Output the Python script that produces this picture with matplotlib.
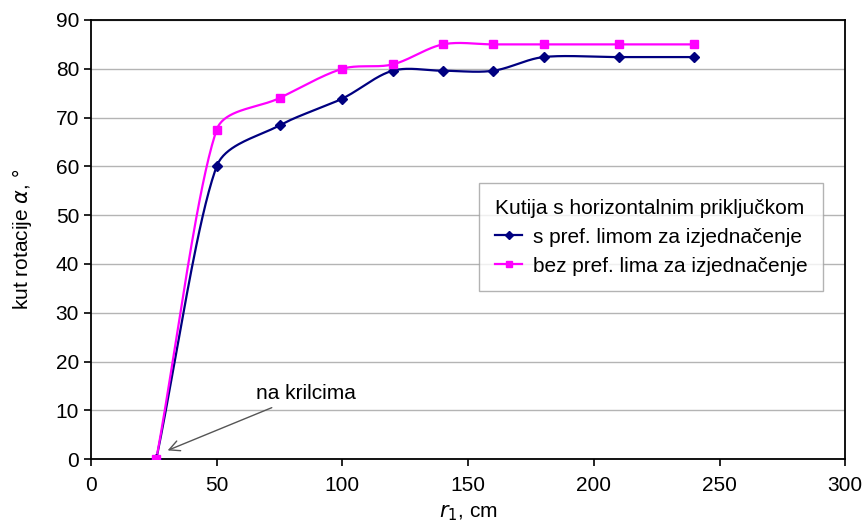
import numpy as np
import matplotlib
matplotlib.use('Agg')
import matplotlib.pyplot as plt

plt.rcParams['font.family'] = ['Liberation Sans', 'DejaVu Sans']

# data
r1 = [26, 50, 75, 100, 120, 140, 160, 180, 210, 240]
with_plate = [0, 60, 68.4, 73.9, 79.6, 79.6, 79.6, 82.4, 82.4, 82.4]
without_plate = [0, 67.5, 74.0, 80, 80.9, 85, 85, 85, 85, 85]

title_leg = 'Kutija s horizontalnim priključkom'
label_a = 's pref. limom za izjednačenje'
label_b = 'bez pref. lima za izjednačenje'

FS = 15


def smooth(x, y, sx=2.51, sy=4.88, n=40):
    # Excel-like smoothed line, worked out in screen units
    p = np.column_stack([np.array(x) * sx, np.array(y) * sy]).astype(float)
    out = [p[0]]
    t = np.linspace(0, 1, n)[1:, None]
    L = np.hypot(*np.diff(p, axis=0).T)
    for i in range(len(p) - 1):
        if i > 0:
            d = p[i + 1] - p[i - 1]
            c1 = p[i] + d * min(1 / 6, L[i] / (L[i - 1] + L[i]) / 3)
        else:
            c1 = p[i] + (p[i + 1] - p[i]) / 3
        if i + 2 < len(p):
            d = p[i + 2] - p[i]
            c2 = p[i + 1] - d * min(1 / 6, L[i] / (L[i] + L[i + 1]) / 3)
        else:
            c2 = p[i + 1] - (p[i + 1] - p[i]) / 3
        seg = ((1 - t) ** 3 * p[i] + 3 * (1 - t) ** 2 * t * c1
               + 3 * (1 - t) * t ** 2 * c2 + t ** 3 * p[i + 1])
        out.extend(seg)
    out = np.array(out)
    return out[:, 0] / sx, out[:, 1] / sy


fig = plt.figure(figsize=(8.66, 5.26), dpi=100)
ax = fig.add_axes([0.105, 0.127, 0.871, 0.835])

navy = '#000080'
pink = '#ff00ff'

cx, cy = smooth(r1, with_plate)
ax.plot(cx, cy, color=navy, lw=1.6, zorder=3)
ax.plot(r1, with_plate, ls='none', marker='D', ms=5.5, color=navy, zorder=4)
cx, cy = smooth(r1, without_plate)
ax.plot(cx, cy, color=pink, lw=1.6, zorder=3)
ax.plot(r1, without_plate, ls='none', marker='s', ms=6, color=pink, zorder=5)

# legend proxies
ha, = ax.plot([], [], color=navy, lw=1.6, marker='D', ms=4)
hb, = ax.plot([], [], color=pink, lw=1.6, marker='s', ms=4.5)
leg = ax.legend([ha, hb], [label_a, label_b], title=title_leg,
                loc='upper left', bbox_to_anchor=(0.515, 0.629),
                fontsize=FS, title_fontsize=FS, frameon=True,
                fancybox=False, edgecolor='#a0a0a0', handlelength=1.3,
                handletextpad=0.5, borderpad=0.75, labelspacing=0.48,
                borderaxespad=0)
leg._legend_box.align = 'left'
leg.get_frame().set_linewidth(1.0)

ax.annotate('na krilcima', xy=(30.5, 1.8), xytext=(65.5, 13.4),
            fontsize=FS, va='center', ha='left',
            arrowprops=dict(arrowstyle='->,head_length=0.5,head_width=0.25',
                            color='#555555', lw=1.0, shrinkA=3, shrinkB=0))

ax.set_xlim(0, 300)
ax.set_ylim(0, 90)
ax.set_xticks(range(0, 301, 50))
ax.set_yticks(range(0, 91, 10))
ax.yaxis.grid(True, color='#b4b4b4', lw=1.0)
ax.set_axisbelow(True)
for s in ax.spines.values():
    s.set_linewidth(1.3)
ax.tick_params(labelsize=FS, direction='out', length=5, width=1.2)
ax.tick_params(axis='x', pad=7)

ax.set_xlabel(r'$\it{r}$$_1$, cm', fontsize=FS, labelpad=6)
ax.set_ylabel(r'kut rotacije $\alpha$, °', fontsize=FS, labelpad=16)

fig.savefig('out.png', dpi=100)
